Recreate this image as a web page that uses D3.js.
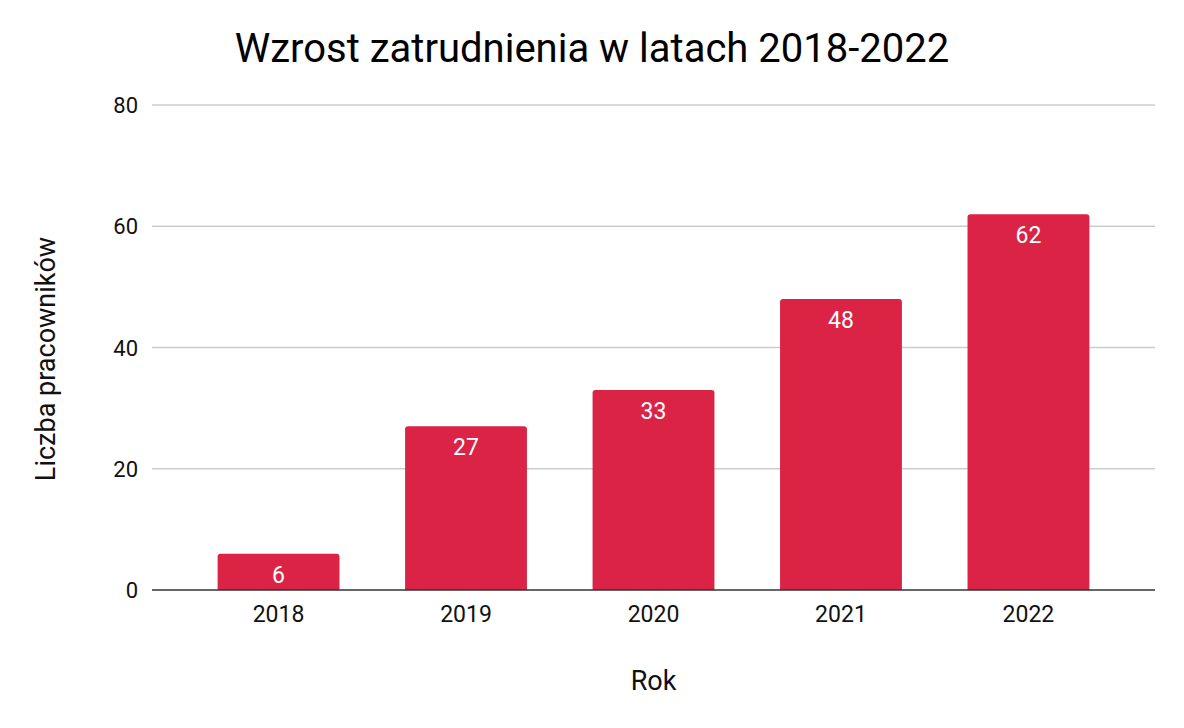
<!DOCTYPE html>
<html>
<head>
<meta charset="utf-8">
<script src="https://cdn.jsdelivr.net/npm/d3@7"></script>
<style>
  body { margin: 0; background: #fff; }
  svg { font-family: Roboto, "Noto Sans", sans-serif; }
</style>
</head>
<body>
<svg id="chart" width="1184" height="728"></svg>
<script>
// data
const years = ["2018", "2019", "2020", "2021", "2022"];
const employees = [6, 27, 33, 48, 62];
const yTicks = [0, 20, 40, 60, 80];

const svg = d3.select("#chart");
const plotLeft = 152, plotRight = 1155, plotTop = 105, plotBottom = 590;

let x = d3.scaleBand()
    .domain(years)
    .range([plotLeft, plotRight])
    .paddingInner(0.35)
    .paddingOuter(0.35);

let y = d3.scaleLinear()
    .domain([0, 80])
    .range([plotBottom, plotTop]);

// gridlines
svg.append("g")
    .selectAll("line")
    .data(yTicks.slice(1))
    .enter().append("line")
    .attr("x1", plotLeft)
    .attr("x2", plotRight)
    .attr("y1", d => y(d))
    .attr("y2", d => y(d))
    .attr("stroke", "#cccccc")
    .attr("stroke-width", 1.3);

// y tick labels
svg.append("g")
    .selectAll("text")
    .data(yTicks)
    .enter().append("text")
    .attr("x", 138)
    .attr("y", d => y(d) + 8)
    .attr("text-anchor", "end")
    .attr("font-size", 22)
    .attr("fill", "#111")
    .text(d => d);

// bars, rounded top corners only
let r = 3;
svg.append("g")
    .selectAll("path")
    .data(years)
    .enter().append("path")
    .attr("fill", "#da2345")
    .attr("d", function (d, i) {
        let x0 = x(d), x1 = x(d) + x.bandwidth();
        let y0 = y(employees[i]), y1 = y(0);
        return "M" + x0 + "," + y1
            + "V" + (y0 + r)
            + "Q" + x0 + "," + y0 + " " + (x0 + r) + "," + y0
            + "H" + (x1 - r)
            + "Q" + x1 + "," + y0 + " " + x1 + "," + (y0 + r)
            + "V" + y1 + "Z";
    });

// value labels
svg.append("g")
    .selectAll("text")
    .data(years)
    .enter().append("text")
    .attr("x", d => x(d) + x.bandwidth() / 2)
    .attr("y", (d, i) => y(employees[i]) + 29)
    .attr("text-anchor", "middle")
    .attr("font-size", 23)
    .attr("fill", "#fff")
    .text((d, i) => employees[i]);

// baseline
svg.append("line")
    .attr("x1", plotLeft)
    .attr("x2", plotRight)
    .attr("y1", y(0))
    .attr("y2", y(0))
    .attr("stroke", "#333")
    .attr("stroke-width", 1.5);

// x tick labels
svg.append("g")
    .selectAll("text")
    .data(years)
    .enter().append("text")
    .attr("x", d => x(d) + x.bandwidth() / 2)
    .attr("y", 622)
    .attr("text-anchor", "middle")
    .attr("font-size", 23)
    .attr("fill", "#111")
    .text(d => d);

// title
svg.append("text")
    .attr("x", 592)
    .attr("y", 62)
    .attr("text-anchor", "middle")
    .attr("font-size", 40)
    .attr("fill", "#000")
    .text("Wzrost zatrudnienia w latach 2018-2022");

// axis titles
svg.append("text")
    .attr("x", (plotLeft + plotRight) / 2)
    .attr("y", 690)
    .attr("text-anchor", "middle")
    .attr("font-size", 27)
    .attr("fill", "#111")
    .text("Rok");

svg.append("text")
    .attr("transform", "translate(55,359) rotate(-90)")
    .attr("text-anchor", "middle")
    .attr("font-size", 27)
    .attr("fill", "#111")
    .text("Liczba pracowników");
</script>
</body>
</html>
